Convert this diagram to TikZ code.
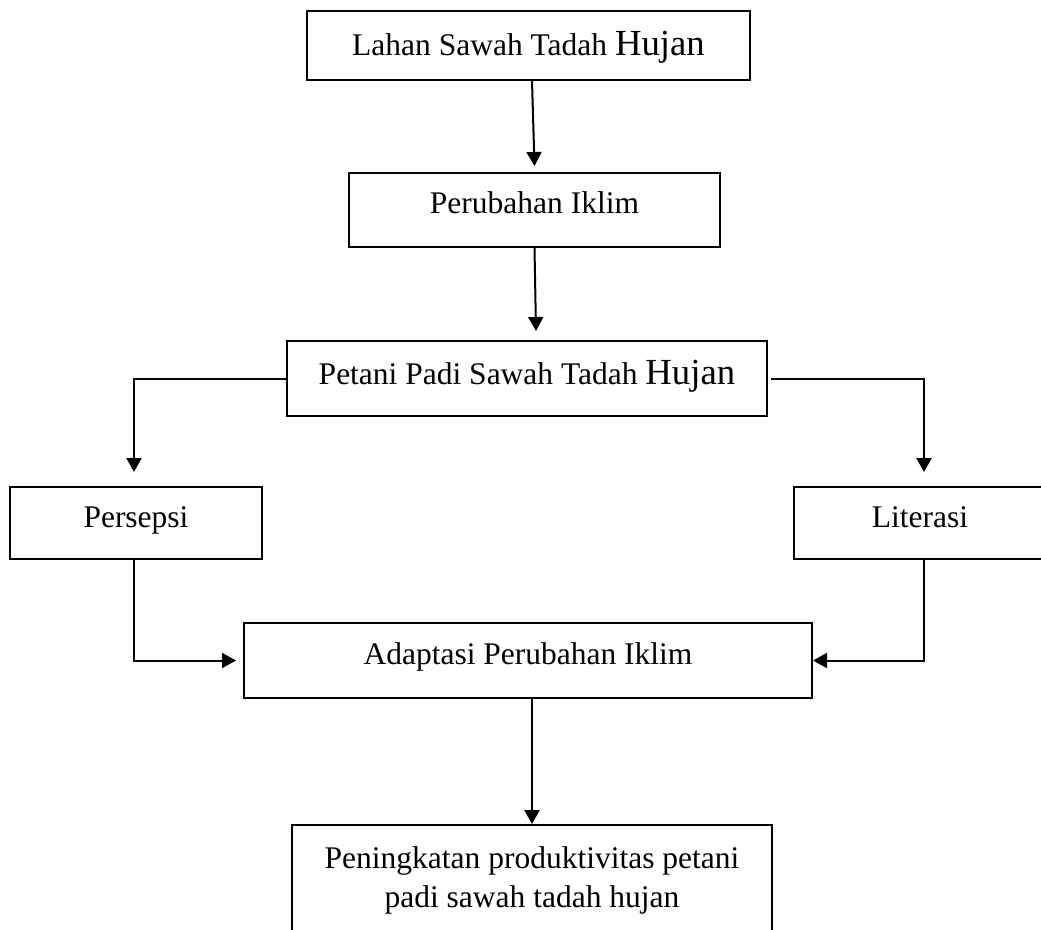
\documentclass[tikz,border=0pt]{standalone}
\usepackage{fontspec}
\setmainfont{Liberation Serif}
\usetikzlibrary{arrows.meta,calc}
\newcommand{\bigH}[1]{{\fontsize{36.75}{39}\selectfont #1}}
\begin{document}
\begin{tikzpicture}[x=1pt,y=-1pt,
  box/.style={draw, line width=2pt, inner sep=0pt,
    font=\fontsize{31.5}{39}\selectfont, text height=22pt, text depth=14pt},
  txt/.style={inner sep=0pt, font=\fontsize{31.5}{39}\selectfont},
  arr/.style={line width=2pt, -{Triangle[length=14pt,width=15pt]}},
  conn/.style={line width=2pt}]
\useasboundingbox (0,0) rectangle (1041,929);
\clip (0,0) rectangle (1041,929);

\node[box, minimum width=443pt, minimum height=69pt, text height=25pt, text depth=6pt]
  (B1) at (528.5,45.5) {Lahan Sawah Tadah \bigH{Hujan}};
\node[box, minimum width=371pt, minimum height=74pt, text height=22pt, text depth=16pt]
  (B2) at (534.5,210) {Perubahan Iklim};
\node[box, minimum width=480pt, minimum height=75pt, text height=24pt, text depth=13pt]
  (B3) at (527,378.5) {Petani Padi Sawah Tadah \bigH{Hujan}};
\node[box, minimum width=252pt, minimum height=72pt]
  (Ps) at (136,523) {Persepsi};
\node[box, minimum width=252pt, minimum height=72pt]
  (Li) at (920,523) {Literasi};
\node[box, minimum width=568pt, minimum height=75pt, text height=22pt, text depth=15pt]
  (Ad) at (528,660.5) {Adaptasi Perubahan Iklim};
\node[draw, line width=2pt, inner sep=0pt, minimum width=480pt, minimum height=160pt, anchor=north]
  (P) at (532,824) {};
\node[txt, anchor=north, align=center] (Pt) at ($(P.north)+(0,22.5)$)
  {Peningkatan produktivitas petani\\padi sawah tadah hujan};

\draw[arr] ($(B1.south)+(3.5,0)$) -- ($(B2.north)+(0,-6)$);
\draw[arr] (B2.south) -- ($(B3.north)+(9,-9)$);
\draw[arr] (B3.west) -| ($(Ps.north)+(-2,-14)$);
\draw[arr] ($(B3.east)+(3,0)$) -| ($(Li.north)+(4,-14)$);
\draw[arr] ($(Ps.south)+(-2,0)$) |- ($(Ad.west)+(-7,0)$);
\draw[arr] ($(Li.south)+(4,0)$) |- (Ad.east);
\draw[arr] ($(Ad.south)+(4,0)$) -- (P.north);
\end{tikzpicture}
\end{document}
